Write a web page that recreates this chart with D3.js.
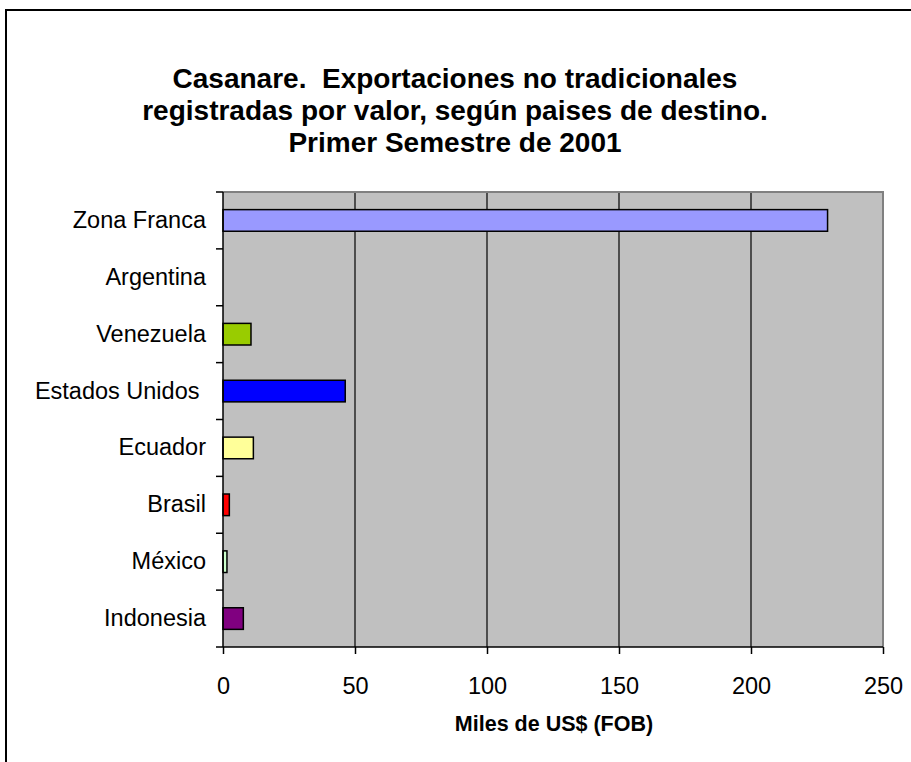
<!DOCTYPE html>
<html>
<head>
<meta charset="utf-8">
<script src="https://cdn.jsdelivr.net/npm/d3@7"></script>
<style>
  html, body { margin: 0; padding: 0; background: #fff; }
  svg { display: block; font-family: "Liberation Sans", Arial, sans-serif; }
</style>
</head>
<body>
<svg id="chart" width="911" height="762"></svg>
<script>
const titleLines = [
  "Casanare.  Exportaciones no tradicionales",
  "registradas por valor, según paises de destino.",
  "Primer Semestre de 2001"
];
const categories = ["Zona Franca", "Argentina", "Venezuela", "Estados Unidos ", "Ecuador", "Brasil", "México", "Indonesia"];
const values = [229, 0, 10.6, 46.3, 11.5, 2.4, 1.5, 7.7];
const colors = ["#9999FF", "#FF8080", "#99CC00", "#0000FF", "#FFFF99", "#FF0000", "#CCFFCC", "#800080"];
const xTicks = [0, 50, 100, 150, 200, 250];
const xTitle = "Miles de US$ (FOB)";

const svg = d3.select("#chart");
const plot = { left: 223, right: 883, top: 192, bottom: 647 };

// outer chart border (top + left visible)
svg.append("path")
  .attr("d", `M6,762 L6,10 L911,10`)
  .attr("fill", "none").attr("stroke", "#000").attr("stroke-width", 2);

// title
svg.append("g").selectAll("text").data(titleLines).join("text")
  .attr("x", 455).attr("y", (d, i) => 88 + i * 32)
  .attr("text-anchor", "middle")
  .style("white-space", "pre")
  .attr("font-size", 28).attr("font-weight", "bold")
  .text(d => d);

const x = d3.scaleLinear().domain([0, 250]).range([plot.left, plot.right]);
const y = d3.scaleBand().domain(categories).range([plot.top, plot.bottom]).paddingInner(0.62).paddingOuter(0.31);

// plot background
svg.append("rect")
  .attr("x", plot.left).attr("y", plot.top)
  .attr("width", plot.right - plot.left).attr("height", plot.bottom - plot.top)
  .attr("fill", "#C0C0C0");

// gridlines
svg.append("g").selectAll("line").data(xTicks.filter(t => t > 0 && t < 250)).join("line")
  .attr("x1", d => x(d)).attr("x2", d => x(d))
  .attr("y1", plot.top).attr("y2", plot.bottom)
  .attr("stroke", "#000").attr("stroke-width", 1.2);

// plot border top/right (grey)
svg.append("path")
  .attr("d", `M${plot.left},${plot.top} L${plot.right},${plot.top} L${plot.right},${plot.bottom}`)
  .attr("fill", "none").attr("stroke", "#808080").attr("stroke-width", 2);

// bars
svg.append("g").selectAll("rect").data(categories.map((c, i) => ({ c, v: values[i], col: colors[i] })).filter(d => d.v > 0)).join("rect")
  .attr("x", x(0)).attr("y", d => y(d.c))
  .attr("width", d => x(d.v) - x(0)).attr("height", y.bandwidth())
  .attr("fill", d => d.col).attr("stroke", "#000").attr("stroke-width", 1.5);

// x axis
const xAxis = d3.axisBottom(x).tickValues(xTicks).tickSize(7).tickPadding(23).tickFormat(d3.format("d"));
const gx = svg.append("g").attr("transform", `translate(0,${plot.bottom})`).call(xAxis);
gx.select(".domain").attr("stroke", "#000").attr("stroke-width", 1.5).attr("d", `M${plot.left},0H${plot.right}`);
gx.selectAll(".tick line").attr("stroke", "#000").attr("stroke-width", 1.5);
gx.selectAll(".tick text").attr("font-size", 23.5).attr("font-family", "Liberation Sans, Arial, sans-serif").attr("fill", "#000");

// y axis: labels
const yAxis = d3.axisLeft(y).tickSize(0).tickPadding(17);
const gy = svg.append("g").attr("transform", `translate(${plot.left},0)`).call(yAxis);
gy.select(".domain").attr("stroke", "#000").attr("stroke-width", 1.5).attr("d", `M0,${plot.top}V${plot.bottom}`);
gy.selectAll(".tick text").attr("font-size", 23.5).style("white-space", "pre")
  .attr("font-family", "Liberation Sans, Arial, sans-serif").attr("fill", "#000");

// y axis ticks at band boundaries
const bounds = categories.map(c => y(c) - y.step() * y.paddingInner() / 2).concat([plot.bottom]);
svg.append("g").selectAll("line").data(bounds).join("line")
  .attr("x1", plot.left - 7).attr("x2", plot.left)
  .attr("y1", d => d).attr("y2", d => d)
  .attr("stroke", "#000").attr("stroke-width", 1.5);

// x axis title
svg.append("text")
  .attr("x", (plot.left + plot.right) / 2 + 1).attr("y", 731)
  .attr("text-anchor", "middle").attr("font-size", 21.5).attr("font-weight", "bold")
  .text(xTitle);
</script>
</body>
</html>
